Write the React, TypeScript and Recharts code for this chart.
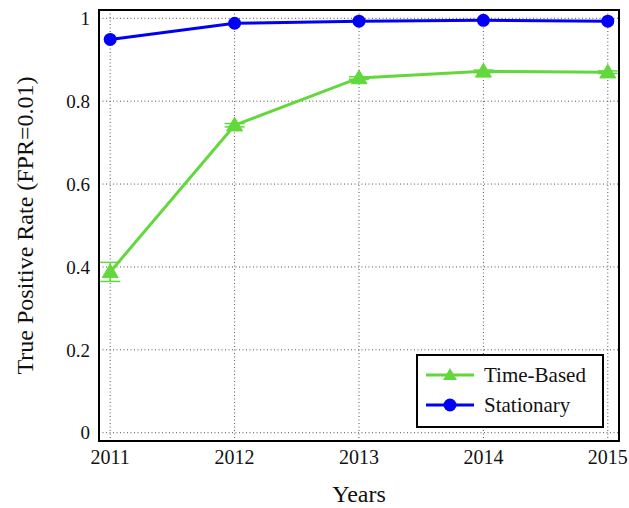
import React from 'react';
import {
  LineChart,
  Line,
  XAxis,
  YAxis,
  CartesianGrid,
  ReferenceArea,
  ErrorBar,
} from 'recharts';

const years = [2011, 2012, 2013, 2014, 2015];
const timeBased = [0.388, 0.742, 0.856, 0.872, 0.87];
const timeBasedErr = [0.023, 0.004, 0.003, 0.003, 0.003];
const stationary = [0.949, 0.988, 0.993, 0.995, 0.993];
const yTicks = [0, 0.2, 0.4, 0.6, 0.8, 1];

const GREEN = '#62d83c';
const BLUE = '#0000f5';
const FONT = '"Liberation Serif", "DejaVu Serif", serif';

const data = years.map((year, i) => ({
  year,
  timeBased: timeBased[i],
  timeBasedErr: timeBasedErr[i],
  stationary: stationary[i],
}));

function Triangle({ cx, cy }: any) {
  if (cx == null || cy == null) return null;
  const s = 8;
  return (
    <path
      d={`M${cx},${cy - s} L${cx + s},${cy + s * 0.72} L${cx - s},${cy + s * 0.72} Z`}
      fill={GREEN}
      stroke={GREEN}
    />
  );
}

function Dot({ cx, cy }: any) {
  if (cx == null || cy == null) return null;
  return <circle cx={cx} cy={cy} r={6.5} fill={BLUE} />;
}

function LegendBox() {
  const row = (color: string, marker: React.ReactNode, label: string) => (
    <div style={{ display: 'flex', alignItems: 'center', height: 30 }}>
      <svg width={52} height={20} style={{ marginRight: 8 }}>
        <line x1={2} y1={10} x2={50} y2={10} stroke={color} strokeWidth={3} />
        {marker}
      </svg>
      <span style={{ fontFamily: FONT, fontSize: 21, color: '#111' }}>{label}</span>
    </div>
  );
  return (
    <div
      style={{
        position: 'absolute',
        left: 416,
        top: 354,
        boxSizing: 'border-box',
        width: 188,
        height: 74,
        border: '2.5px solid #000',
        background: '#fff',
        padding: '4px 0 4px 6px',
      }}
    >
      {row(GREEN, <path d="M26,3 L33,15 L19,15 Z" fill={GREEN} />, 'Time-Based')}
      {row(BLUE, <circle cx={26} cy={10} r={6.5} fill={BLUE} />, 'Stationary')}
    </div>
  );
}

export default function App() {
  return (
    <div style={{ position: 'fixed', left: 0, top: 0, width: 629, height: 508, background: '#fff' }}>
      <LineChart
        width={629}
        height={508}
        data={data}
        margin={{ top: 10, right: 10, left: 0, bottom: 0 }}
      >
        <CartesianGrid stroke="#555" strokeDasharray="1 2.5" />
        <XAxis
          dataKey="year"
          type="number"
          domain={[2010.91, 2015.09]}
          ticks={years}
          allowDataOverflow
          height={67}
          tickLine={false}
          axisLine={false}
          tickSize={0}
          tickMargin={9}
          tick={{ fontFamily: FONT, fontSize: 20, fill: '#111' }}
          label={{
            value: 'Years',
            position: 'insideBottom',
            offset: 6,
            style: { fontFamily: FONT, fontSize: 24, fill: '#111' },
          }}
        />
        <YAxis
          type="number"
          domain={[-0.02, 1.02]}
          ticks={yTicks}
          allowDataOverflow
          width={99}
          tickLine={false}
          axisLine={false}
          tickSize={0}
          tickMargin={9}
          tickFormatter={(v: number) => String(v)}
          tick={{ fontFamily: FONT, fontSize: 19, fill: '#111' }}
          label={{
            value: 'True Positive Rate (FPR=0.01)',
            angle: -90,
            position: 'insideLeft',
            offset: 24,
            style: { fontFamily: FONT, fontSize: 24, fill: '#111', textAnchor: 'middle' },
          }}
        />
        <ReferenceArea
          x1={2010.91}
          x2={2015.09}
          y1={-0.02}
          y2={1.02}
          fill="none"
          fillOpacity={0}
          stroke="#000"
          strokeWidth={2}
          ifOverflow="visible"
        />
        <Line
          dataKey="timeBased"
          stroke={GREEN}
          strokeWidth={3}
          dot={<Triangle />}
          isAnimationActive={false}
        >
          <ErrorBar dataKey="timeBasedErr" direction="y" width={10} stroke={GREEN} strokeWidth={1.5} />
        </Line>
        <Line
          dataKey="stationary"
          stroke={BLUE}
          strokeWidth={3}
          dot={<Dot />}
          isAnimationActive={false}
        />
      </LineChart>
      <LegendBox />
    </div>
  );
}
